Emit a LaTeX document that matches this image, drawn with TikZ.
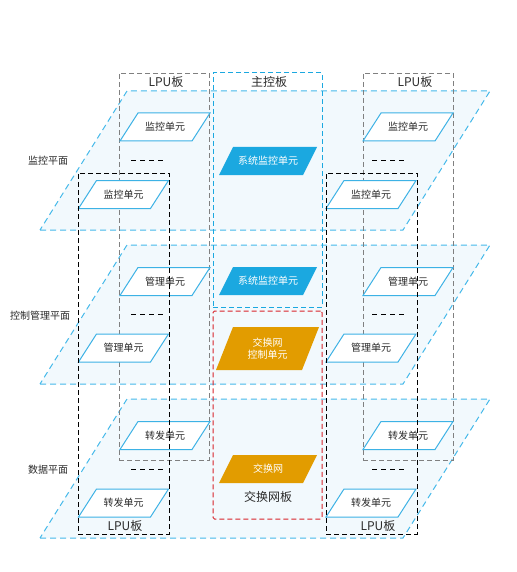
\documentclass[tikz,border=0pt]{standalone}
\usepackage{fontspec}
\newfontfamily\cjk{Noto Sans CJK SC}
\definecolor{planefill}{HTML}{F2F9FD}
\definecolor{planeline}{HTML}{45B9EA}
\definecolor{unitline}{HTML}{3DB2E5}
\definecolor{sysblue}{HTML}{1BA8E0}
\definecolor{sworange}{HTML}{E29C00}
\definecolor{boardgrey}{HTML}{808080}
\definecolor{boardred}{HTML}{D8232A}
\definecolor{txt}{HTML}{2A2A2A}
% parallelogram: [style]{cx}{cy}{total width}{height}{skew}
\newcommand{\pgram}[6][]{%
  \path[#1] ({#2-#4/2},{#3+#5/2}) -- ({#2+#4/2-#6},{#3+#5/2}) --
    ({#2+#4/2},{#3-#5/2}) -- ({#2-#4/2+#6},{#3-#5/2}) -- cycle;}
\begin{document}
\begin{tikzpicture}[x=1pt,y=-1pt,
  every node/.style={font=\cjk, text=txt},
  planeshape/.style={fill=planefill, draw=planeline, dash pattern=on 6pt off 4pt, line width=1pt},
  unitshape/.style={fill=white, draw=unitline, line width=1pt},
  unittext/.style={font=\cjk\fontsize{10}{12}\selectfont, inner sep=0pt},
  systext/.style={unittext, text=white},
  backboard/.style={rectangle, draw=boardgrey, dash pattern=on 5pt off 3pt, line width=0.9pt, inner sep=0pt},
  frontboard/.style={rectangle, draw=black, dash pattern=on 5pt off 3pt, line width=0.9pt, inner sep=0pt},
  mainboard/.style={rectangle, draw=sysblue, dash pattern=on 5pt off 3pt, line width=1pt, inner sep=0pt},
  swboard/.style={rectangle, draw=boardred, dash pattern=on 5pt off 3pt, line width=1pt, inner sep=0pt, rounded corners=1.5pt},
  boardlbl/.style={font=\cjk\fontsize{12}{14}\selectfont, inner sep=0pt},
  planelbl/.style={font=\cjk\fontsize{10}{12}\selectfont, inner sep=0pt},
  ellip/.style={draw=black, dash pattern=on 5pt off 4pt, line width=0.9pt}
]
\useasboundingbox (0,0) rectangle (516,572);
% planes
\pgram[planeshape]{265}{160.5}{450}{139}{87}
\pgram[planeshape]{265}{314.5}{450}{139}{87}
\pgram[planeshape]{265}{468.5}{450}{139}{87}
% back LPU boards
\node[backboard, minimum width=90pt, minimum height=387pt] (lpuLb) at (164,266.5) {};
\node[backboard, minimum width=90pt, minimum height=387pt] (lpuRb) at (408,266.5) {};
\node[boardlbl] (lpuLbl) at (166,82) {LPU板};
\node[boardlbl] (lpuRbl) at (415,82) {LPU板};
% LPU units
\foreach \cx/\cy/\nm/\t in {165/127/m1/监控单元, 123.5/194.5/m2/监控单元, 408/127/m3/监控单元, 371/194.5/m4/监控单元,
    165/281.5/g1/管理单元, 123.5/348/g2/管理单元, 408/281.5/g3/管理单元, 371/348/g4/管理单元,
    165/435.5/f1/转发单元, 123.5/503/f2/转发单元, 408/435.5/f3/转发单元, 371/503/f4/转发单元} {
  \pgram[unitshape]{\cx}{\cy}{90}{28}{18}
  \node[unittext] (\nm) at (\cx,\cy) {\t};
}
% ellipsis dashes
\foreach \y in {160,314,469} {
  \draw[ellip] (131,\y) -- (164,\y);
  \draw[ellip] (372,\y) -- (405,\y);
}
% main control board and switch board
\node[mainboard, minimum width=109pt, minimum height=234pt] (mcu) at (267.5,190) {};
\node[boardlbl] (mculbl) at (269,82) {主控板};
\node[swboard, minimum width=109pt, minimum height=208pt] (sfu) at (267.5,415) {};
\node[boardlbl] (sfulbl) at (268,497) {交换网板};
% front LPU boards
\node[frontboard, minimum width=91pt, minimum height=361pt] (lpuLf) at (123.5,353.5) {};
\node[frontboard, minimum width=91pt, minimum height=361pt] (lpuRf) at (371.5,353.5) {};
\node[boardlbl] (lpuLfl) at (125,526) {LPU板};
\node[boardlbl] (lpuRfl) at (378,526) {LPU板};
% main units
\pgram[fill=sysblue]{268}{161}{98}{28}{14}
\node[systext] (s1) at (268,161) {系统监控单元};
\pgram[fill=sysblue]{268}{281}{98}{28}{14}
\node[systext] (s2) at (268,281) {系统监控单元};
\pgram[fill=sworange]{267.5}{348.5}{103}{43}{17}
\node[systext, align=center] (sc) at (267.5,348.5) {交换网\\控制单元};
\pgram[fill=sworange]{268}{469}{98}{28}{14}
\node[systext] (sw) at (268,469) {交换网};
% plane labels
\node[planelbl] (l1) at (48,161) {监控平面};
\node[planelbl] (l2) at (40,316) {控制管理平面};
\node[planelbl] (l3) at (48,470) {数据平面};
\end{tikzpicture}
\end{document}
